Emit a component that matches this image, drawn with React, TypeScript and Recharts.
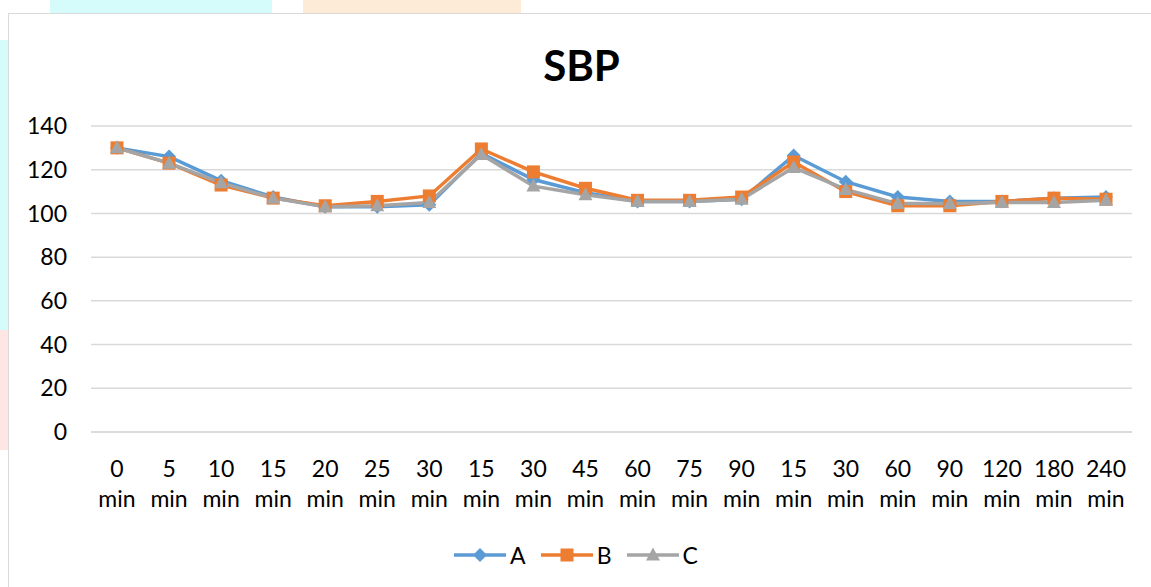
import React from 'react';
import { LineChart, Line, XAxis, YAxis, CartesianGrid, Legend } from 'recharts';

const categories = ['0 min', '5 min', '10 min', '15 min', '20 min', '25 min', '30 min', '15 min', '30 min', '45 min', '60 min', '75 min', '90 min', '15 min', '30 min', '60 min', '90 min', '120 min', '180 min', '240 min'];
const seriesA = [130, 126, 115, 107.5, 103, 103, 104, 127.5, 115.5, 109.5, 105.5, 105.5, 106.5, 126.5, 114.5, 107.5, 105.5, 105.5, 107, 107.5];
const seriesB = [130, 123, 113, 107, 103.5, 105.5, 108, 129.5, 119, 111.5, 106, 106, 107.5, 123.5, 110, 103.5, 103.5, 105.5, 107, 106.5];
const seriesC = [130, 123, 114, 107, 103, 103.5, 105, 127, 112.5, 108.5, 105.5, 105.5, 106.5, 121, 111, 104.5, 104.5, 105, 105, 106];
const yTicks = [0, 20, 40, 60, 80, 100, 120, 140];

const data = categories.map((label, i) => ({ label, A: seriesA[i], B: seriesB[i], C: seriesC[i] }));

const FONT = 'Lato, "Open Sans", sans-serif';
const COLORS = { A: '#5B9BD5', B: '#ED7D31', C: '#A5A5A5' };

const Marker = ({ kind, cx, cy, color }: any) => {
    if (kind === 'A') {
        return <path d={`M${cx},${cy - 7} L${cx + 7},${cy} L${cx},${cy + 7} L${cx - 7},${cy} Z`} fill={color} />;
    }
    if (kind === 'B') {
        return <rect x={cx - 6.5} y={cy - 6.5} width={13} height={13} fill={color} />;
    }
    return <path d={`M${cx},${cy - 7.5} L${cx + 7},${cy + 5.5} L${cx - 7},${cy + 5.5} Z`} fill={color} />;
};

const makeDot = (kind: string) => (props: any) => (
    <Marker key={`${kind}-${props.index}`} kind={kind} cx={props.cx} cy={props.cy} color={COLORS[kind as 'A']} />
);

const XTick = ({ x, y, payload }: any) => {
    const [num, unit] = String(payload.value).split(' ');
    return (
        <text x={x} y={y} textAnchor="middle" fill="#000" fontSize={23} fontFamily={FONT}>
            <tspan x={x} y={y + 43}>{num}</tspan>
            <tspan x={x} y={y + 73}>{unit}</tspan>
        </text>
    );
};

const LegendContent = () => (
    <div style={{ display: 'flex', justifyContent: 'center', gap: 14, fontFamily: FONT, fontSize: 23 }}>
        {(['A', 'B', 'C'] as const).map((k) => (
            <div key={k} style={{ display: 'flex', alignItems: 'center' }}>
                <svg width={54} height={20}>
                    <line x1={1} y1={10} x2={53} y2={10} stroke={COLORS[k]} strokeWidth={3.5} />
                    <Marker kind={k} cx={27} cy={10} color={COLORS[k]} />
                </svg>
                <span style={{ marginLeft: 3 }}>{k}</span>
            </div>
        ))}
    </div>
);

export default function App() {
    return (
        <div style={{ position: 'absolute', left: 0, top: 0, width: 1151, height: 587, background: '#fff', overflow: 'hidden' }}>
            {/* faint page watermark behind the chart box */}
            <div style={{ position: 'absolute', left: 50, top: 0, width: 222, height: 14, background: '#d6fbfb' }} />
            <div style={{ position: 'absolute', left: 303, top: 0, width: 218, height: 14, background: '#fdebd8' }} />
            <div style={{ position: 'absolute', left: 0, top: 40, width: 8, height: 290, background: '#d6fbfb' }} />
            <div style={{ position: 'absolute', left: 0, top: 330, width: 8, height: 120, background: '#fde6e4' }} />

            <div style={{ position: 'absolute', left: 8, top: 13, width: 1160, height: 600, border: '1px solid #d9d9d9', background: '#fff' }} />

            <div style={{ position: 'absolute', left: 6, top: 40, width: 1151, textAlign: 'center', fontFamily: FONT, fontWeight: 700, fontSize: 42, color: '#000' }}>
                SBP
            </div>

            <div style={{ position: 'absolute', left: 0, top: 0 }}>
                <LineChart width={1151} height={587} data={data} margin={{ top: 126, right: 19, bottom: 27, left: 0 }}>
                    <CartesianGrid vertical={false} stroke="#d9d9d9" strokeWidth={1.5} />
                    <XAxis
                        dataKey="label"
                        axisLine={{ stroke: '#d9d9d9', strokeWidth: 1.5 }}
                        tickLine={false}
                        tickSize={0}
                        interval={0}
                        padding={{ left: 26, right: 26 }}
                        tick={<XTick />}
                        height={100}
                    />
                    <YAxis
                        domain={[0, 140]}
                        ticks={yTicks}
                        interval={0}
                        axisLine={false}
                        tickLine={false}
                        tickSize={0}
                        tickMargin={24}
                        width={91}
                        tick={{ fill: '#000', fontSize: 23, fontFamily: FONT }}
                    />
                    <Legend content={<LegendContent />} wrapperStyle={{ top: 541, left: 0, width: 1151 }} />
                    <Line dataKey="A" stroke={COLORS.A} strokeWidth={3.5} dot={makeDot('A')} isAnimationActive={false} />
                    <Line dataKey="B" stroke={COLORS.B} strokeWidth={3.5} dot={makeDot('B')} isAnimationActive={false} />
                    <Line dataKey="C" stroke={COLORS.C} strokeWidth={3.5} dot={makeDot('C')} isAnimationActive={false} />
                </LineChart>
            </div>
        </div>
    );
}
